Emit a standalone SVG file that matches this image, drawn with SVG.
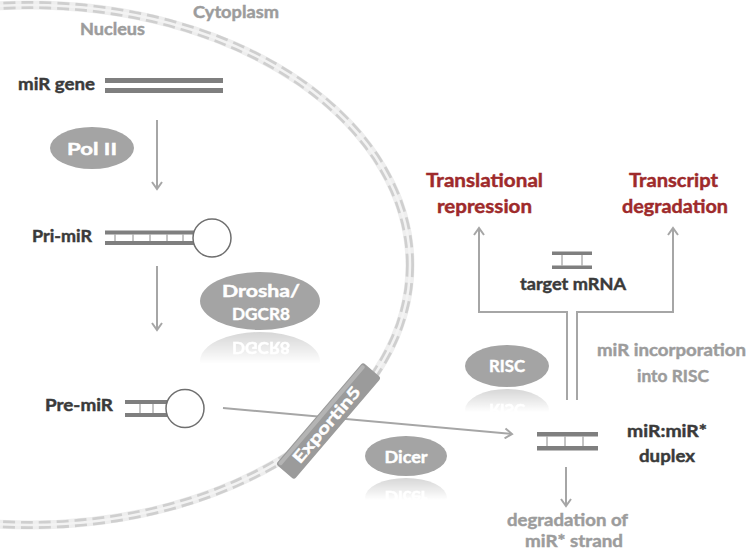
<svg xmlns="http://www.w3.org/2000/svg" width="750" height="554" viewBox="0 0 750 554">
<style>
  text { font-family: Lato, "Open Sans", "Liberation Sans", sans-serif; font-weight: bold; stroke-width: 0.45; }
  .lbl { fill: #3a3a3a; stroke: #3a3a3a; font-size: 17.5px; }
  .gray { fill: #9c9c9c; stroke: #9c9c9c; font-size: 17px; }
  .red { fill: #9e2a2b; stroke: #9e2a2b; font-size: 19.5px; }
  .enz { fill: #ffffff; stroke: #ffffff; font-size: 17px; }
  .enzshape { fill: #a4a4a4; }
  .bar { fill: #7f7f7f; }
  .rung { stroke: #8a8a8a; stroke-width: 1; }
  .loop { fill: #ffffff; stroke: #6f6f6f; stroke-width: 1.5; }
  .conn { fill: none; stroke: #a6a6a6; stroke-width: 2; }
</style>
<defs>
  <marker id="arr" markerUnits="userSpaceOnUse" markerWidth="12" markerHeight="12" viewBox="0 0 12 12" refX="9" refY="6" orient="auto">
    <path d="M2,1 L9,6 L2,11" fill="none" stroke="#a6a6a6" stroke-width="2"/>
  </marker>
  <linearGradient id="fade" x1="0" y1="0" x2="0" y2="1">
    <stop offset="0" stop-color="#fff" stop-opacity="0.45"/>
    <stop offset="0.55" stop-color="#fff" stop-opacity="0"/>
  </linearGradient>
  <mask id="refl" maskContentUnits="objectBoundingBox">
    <rect x="0" y="0" width="1" height="1" fill="url(#fade)"/>
  </mask>
  <filter id="soft" x="-10%" y="-10%" width="120%" height="120%">
    <feGaussianBlur stdDeviation="0.6"/>
  </filter>
</defs>
<rect width="750" height="554" fill="#ffffff"/>

<g id="membrane">
  <ellipse cx="30" cy="265" rx="380" ry="260" fill="none" stroke="#eeeeee" stroke-width="9"/>
  <ellipse cx="30" cy="265" rx="380" ry="260" fill="none" stroke="#cfcfcf" stroke-width="8" stroke-dasharray="12 6"/>
  <ellipse cx="30" cy="265" rx="380" ry="260" fill="none" stroke="#f3f3f3" stroke-width="2.5"/>
</g>

<g id="compartment-labels">
  <text class="gray" x="236" y="18" text-anchor="middle" textLength="86" lengthAdjust="spacingAndGlyphs">Cytoplasm</text>
  <text class="gray" x="112.5" y="35" text-anchor="middle" textLength="65" lengthAdjust="spacingAndGlyphs">Nucleus</text>
</g>

<g id="connectors">
  <path class="conn" d="M157 120 V189" marker-end="url(#arr)"/>
  <path class="conn" d="M157 266 V330" marker-end="url(#arr)"/>
  <path class="conn" d="M223 408 L512 434" marker-end="url(#arr)"/>
  <path class="conn" d="M567 400 V312 H479 V228" marker-end="url(#arr)"/>
  <path class="conn" d="M577 400 V312 H673 V228" marker-end="url(#arr)"/>
  <path class="conn" d="M566 467 V506" marker-end="url(#arr)"/>
</g>

<g id="mir-gene">
  <text class="lbl" x="18" y="90" textLength="77" lengthAdjust="spacingAndGlyphs">miR gene</text>
  <rect class="bar" x="105" y="78" width="118" height="5"/>
  <rect class="bar" x="105" y="88" width="118" height="5"/>
</g>

<g id="pol2">
  <ellipse class="enzshape" cx="92" cy="148" rx="42" ry="21" filter="url(#soft)"/>
  <text class="enz" x="92" y="155" text-anchor="middle" textLength="50" lengthAdjust="spacingAndGlyphs">Pol II</text>
</g>

<g id="pri-mir">
  <text class="lbl" x="32" y="242" textLength="60" lengthAdjust="spacingAndGlyphs">Pri-miR</text>
  <rect class="bar" x="105" y="230.5" width="89" height="4"/>
  <rect class="bar" x="105" y="241" width="89" height="4"/>
  <line class="rung" x1="115" y1="234.5" x2="115" y2="241"/>
  <line class="rung" x1="133" y1="234.5" x2="133" y2="241"/>
  <line class="rung" x1="150" y1="234.5" x2="150" y2="241"/>
  <line class="rung" x1="167" y1="234.5" x2="167" y2="241"/>
  <line class="rung" x1="183" y1="234.5" x2="183" y2="241"/>
  <circle class="loop" cx="212" cy="238" r="19"/>
</g>

<g id="drosha">
  <ellipse class="enzshape" cx="260" cy="301" rx="60" ry="29" filter="url(#soft)"/>
  <text class="enz" x="261" y="297" text-anchor="middle" textLength="78" lengthAdjust="spacingAndGlyphs">Drosha/</text>
  <text class="enz" x="261" y="320" text-anchor="middle" textLength="58" lengthAdjust="spacingAndGlyphs">DGCR8</text>
  <g mask="url(#refl)">
    <g transform="translate(0,662) scale(1,-1)">
      <ellipse class="enzshape" cx="260" cy="301" rx="60" ry="29"/>
      <text class="enz" x="261" y="320" text-anchor="middle" textLength="58" lengthAdjust="spacingAndGlyphs">DGCR8</text>
    </g>
  </g>
</g>

<g id="pre-mir">
  <text class="lbl" x="45" y="411" textLength="68" lengthAdjust="spacingAndGlyphs">Pre-miR</text>
  <rect class="bar" x="125" y="400" width="42" height="4"/>
  <rect class="bar" x="125" y="413" width="42" height="4"/>
  <line class="rung" x1="140" y1="404" x2="140" y2="413"/>
  <line class="rung" x1="153" y1="404" x2="153" y2="413"/>
  <circle class="loop" cx="185" cy="408.5" r="19"/>
</g>

<g id="exportin5" transform="translate(328.5,421) rotate(-49.5)">
  <rect x="-67" y="-12" width="134" height="24" rx="3" fill="#9b9b9b"/>
  <rect x="-65" y="-11" width="130" height="4" rx="1.5" fill="#b4b4b4"/>
  <text x="-4" y="6.5" text-anchor="middle" fill="#ffffff" stroke="#ffffff" font-size="16" textLength="95" lengthAdjust="spacingAndGlyphs">Exportin5</text>
</g>

<g id="dicer">
  <ellipse class="enzshape" cx="406" cy="456" rx="41" ry="20" filter="url(#soft)"/>
  <text class="enz" x="406" y="463" text-anchor="middle" textLength="43" lengthAdjust="spacingAndGlyphs">Dicer</text>
  <g mask="url(#refl)">
    <g transform="translate(0,954) scale(1,-1)">
      <ellipse class="enzshape" cx="406" cy="456" rx="41" ry="20"/>
      <text class="enz" x="406" y="463" text-anchor="middle" textLength="43" lengthAdjust="spacingAndGlyphs">Dicer</text>
    </g>
  </g>
</g>

<g id="risc">
  <ellipse class="enzshape" cx="507" cy="366" rx="42" ry="21" filter="url(#soft)"/>
  <text class="enz" x="507" y="372" text-anchor="middle" textLength="36" lengthAdjust="spacingAndGlyphs">RISC</text>
  <g mask="url(#refl)">
    <g transform="translate(0,776) scale(1,-1)">
      <ellipse class="enzshape" cx="507" cy="366" rx="42" ry="21"/>
      <text class="enz" x="507" y="372" text-anchor="middle" textLength="36" lengthAdjust="spacingAndGlyphs">RISC</text>
    </g>
  </g>
</g>

<g id="translational-repression">
  <text class="red" x="484.5" y="187" text-anchor="middle" textLength="117" lengthAdjust="spacingAndGlyphs">Translational</text>
  <text class="red" x="484.5" y="213" text-anchor="middle" textLength="95" lengthAdjust="spacingAndGlyphs">repression</text>
</g>

<g id="transcript-degradation">
  <text class="red" x="673.5" y="187" text-anchor="middle" textLength="89" lengthAdjust="spacingAndGlyphs">Transcript</text>
  <text class="red" x="675" y="213" text-anchor="middle" textLength="106" lengthAdjust="spacingAndGlyphs">degradation</text>
</g>

<g id="target-mrna">
  <rect class="bar" x="552" y="251.5" width="40" height="3.5"/>
  <rect class="bar" x="552" y="265.5" width="40" height="3.5"/>
  <line class="rung" x1="562" y1="255" x2="562" y2="265.5"/>
  <line class="rung" x1="582" y1="255" x2="582" y2="265.5"/>
  <text class="lbl" x="573" y="290" text-anchor="middle" textLength="106" lengthAdjust="spacingAndGlyphs">target mRNA</text>
</g>

<g id="mir-incorporation">
  <text class="gray" x="671.5" y="356" text-anchor="middle" textLength="149" lengthAdjust="spacingAndGlyphs">miR incorporation</text>
  <text class="gray" x="673" y="382" text-anchor="middle" textLength="72" lengthAdjust="spacingAndGlyphs">into RISC</text>
</g>

<g id="duplex">
  <rect class="bar" x="537" y="432" width="61" height="4.5"/>
  <rect class="bar" x="537" y="446" width="61" height="4.5"/>
  <line class="rung" x1="547" y1="436.5" x2="547" y2="446"/>
  <line class="rung" x1="565" y1="436.5" x2="565" y2="446"/>
  <line class="rung" x1="583" y1="436.5" x2="583" y2="446"/>
  <text class="lbl" x="667" y="437" text-anchor="middle" textLength="80" lengthAdjust="spacingAndGlyphs">miR:miR*</text>
  <text class="lbl" x="667" y="462" text-anchor="middle" textLength="56" lengthAdjust="spacingAndGlyphs">duplex</text>
</g>

<g id="strand-degradation">
  <text class="gray" x="567.5" y="526" text-anchor="middle" textLength="121" lengthAdjust="spacingAndGlyphs">degradation of</text>
  <text class="gray" x="574" y="547" text-anchor="middle" textLength="98" lengthAdjust="spacingAndGlyphs">miR* strand</text>
</g>
</svg>
